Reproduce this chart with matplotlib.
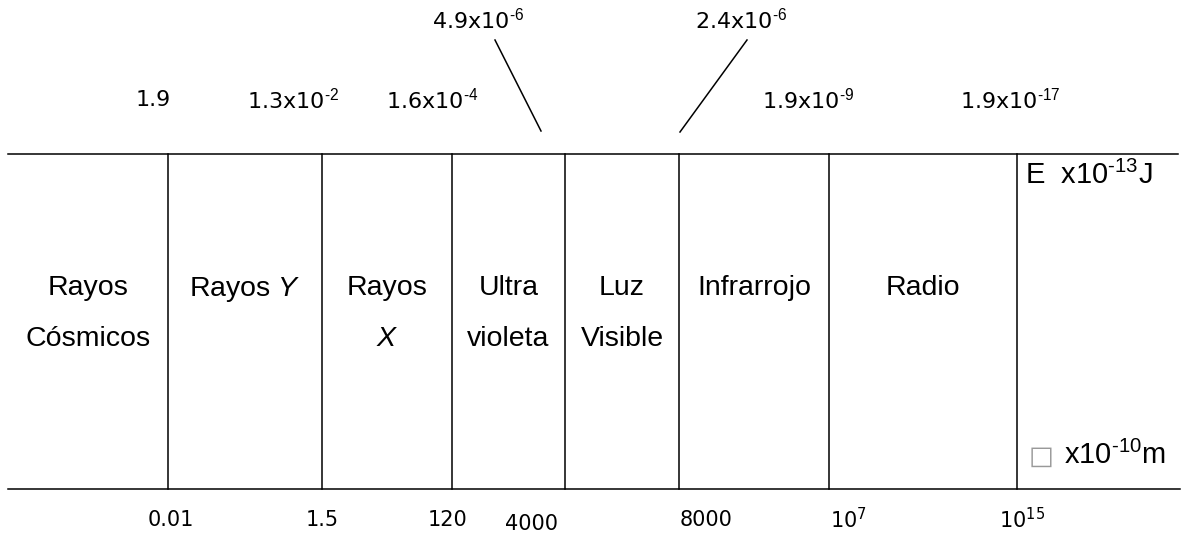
import matplotlib
matplotlib.use("Agg")
import matplotlib.pyplot as plt

plt.rcParams['font.family'] = ['DejaVu Sans']
plt.rcParams['mathtext.default'] = 'regular'
plt.rcParams['mathtext.fontset'] = 'custom'
plt.rcParams['mathtext.rm'] = 'Liberation Sans'
plt.rcParams['mathtext.it'] = 'Liberation Sans:italic'

# band names, left to right
bands = ['Rayos\nCósmicos', 'Rayos $\\mathit{Y}$', 'Rayos\n$\\mathit{X}$', 'Ultra\nvioleta',
         'Luz\nVisible', 'Infrarrojo', 'Radio']
# energy at each boundary (x10^-13 J)
energy_labels = ['1.9', '1.3x10$^{\\text{-2}}$', '1.6x10$^{\\text{-4}}$', '4.9x10$^{\\text{-6}}$',
                 '2.4x10$^{\\text{-6}}$', '1.9x10$^{\\text{-9}}$', '1.9x10$^{\\text{-17}}$']
# wavelength at each boundary (x10^-10 m)
wavelength_labels = ['0.01', '1.5', '120', '4000', '8000', '10$^{7}$', '10$^{15}$']
energy_unit = 'E  x10$^{\\text{-13}}$J'
wavelength_unit = 'x10$^{\\text{-10}}$m'

# layout in pixel units (figure is 1192 x 534)
left, right = 8, 1178
y_top, y_bot = 154, 489
bounds = [168, 322, 452, 565, 679, 829, 1017]
energy_x = [153, 293, 432, 478, 741, 808, 1010]
energy_y = [100, 100, 100, 20, 20, 100, 100]
wave_x = [171, 322, 448, 532, 706, 848, 1022]
wave_y = [520, 520, 520, 524, 520, 520, 520]
leaders = [((495, 541), (40, 131)), ((747, 680), (40, 132))]

fig = plt.figure(figsize=(11.92, 5.34), dpi=100)
ax = fig.add_axes([0, 0, 1, 1])
ax.set_xlim(0, 1192)
ax.set_ylim(534, 0)
ax.axis('off')

lw = 1.1
ax.plot([left, right], [y_top, y_top], color='black', lw=lw)
ax.plot([left, right + 2], [y_bot, y_bot], color='black', lw=lw)
for xb in bounds:
    ax.plot([xb, xb], [y_top, y_bot], color='black', lw=lw)
for xs, ys in leaders:
    ax.plot(xs, ys, color='black', lw=lw)

edges = [left] + bounds
arial = ['Liberation Sans', 'DejaVu Sans']
for i, name in enumerate(bands):
    xc = (edges[i] + edges[i + 1]) / 2
    ax.text(xc, 275, name, ha='center', va='top', fontsize=20.5, family=arial,
            linespacing=2.25)

for lab, x, y in zip(energy_labels, energy_x, energy_y):
    ax.text(x, y, lab, ha='center', va='center', fontsize=16)

for lab, x, y in zip(wavelength_labels, wave_x, wave_y):
    ax.text(x, y, lab, ha='center', va='center', fontsize=15)

ax.text(1025, 175, energy_unit, ha='left', va='center', fontsize=21, family=arial)
ax.text(1029, 457, '□', ha='left', va='center', fontsize=19, color='#999999',
        family=['DejaVu Sans'])
ax.text(1064, 455, wavelength_unit, ha='left', va='center', fontsize=21, family=arial)

fig.savefig('out.png', dpi=100, facecolor='white')
